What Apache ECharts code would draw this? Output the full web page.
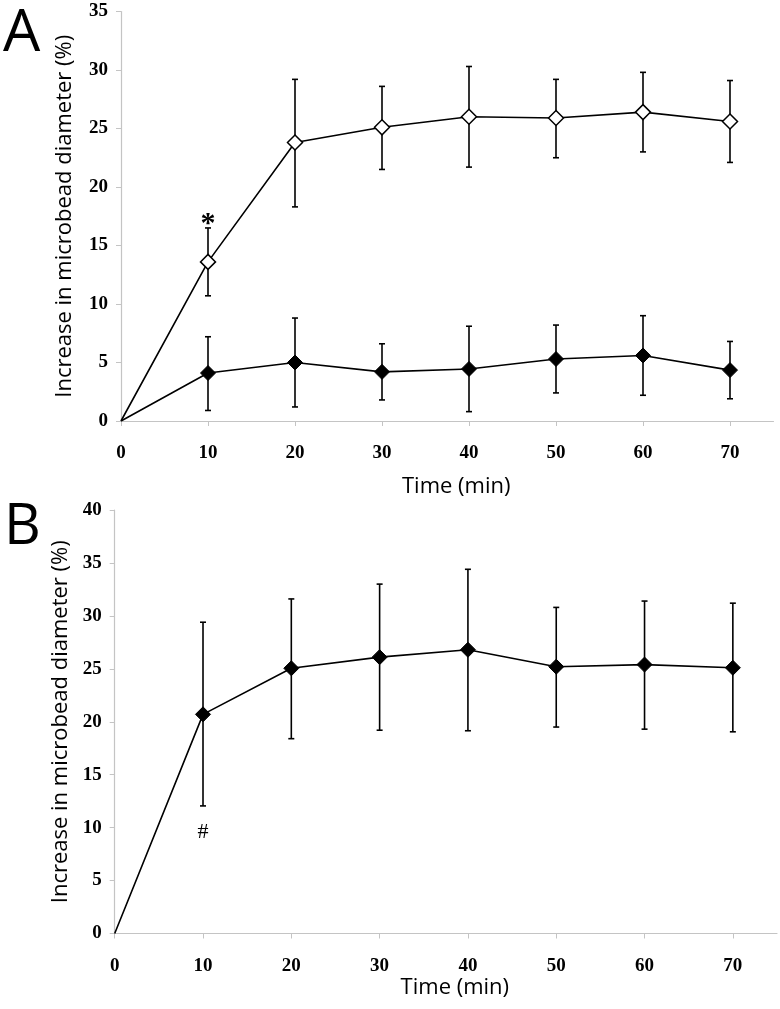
<!DOCTYPE html>
<html>
<head>
<meta charset="utf-8">
<script src="https://cdn.jsdelivr.net/npm/echarts@6/dist/echarts.min.js"></script>
<style>
html,body{margin:0;padding:0;background:#fff;}
#chart{width:780px;height:1009px;}
</style>
</head>
<body>
<div id="chart"></div>
<script>
// ---- Data ----
var timeMin = [0, 10, 20, 30, 40, 50, 60, 70];
var xTickLabels = [0, 10, 20, 30, 40, 50, 60, 70];
var yTicksA = [0, 5, 10, 15, 20, 25, 30, 35];
var yTicksB = [0, 5, 10, 15, 20, 25, 30, 35, 40];

// Panel A - open diamonds
var openMean  = [0, 13.6, 23.8, 25.1, 26.0, 25.9, 26.4, 25.6];
var openUpper = [null, 16.5, 29.2, 28.6, 30.3, 29.2, 29.8, 29.1];
var openLower = [null, 10.7, 18.3, 21.5, 21.7, 22.5, 23.0, 22.1];
// Panel A - filled diamonds
var filledMean  = [0, 4.1, 5.0, 4.2, 4.45, 5.3, 5.6, 4.35];
var filledUpper = [null, 7.2, 8.8, 6.6, 8.1, 8.2, 9.0, 6.8];
var filledLower = [null, 0.9, 1.2, 1.8, 0.8, 2.4, 2.2, 1.9];
// Panel B - filled diamonds
var bMean  = [0, 20.7, 25.05, 26.1, 26.8, 25.2, 25.4, 25.1];
var bUpper = [null, 29.4, 31.6, 33.0, 34.4, 30.8, 31.4, 31.2];
var bLower = [null, 12.05, 18.4, 19.2, 19.15, 19.5, 19.3, 19.05];

// Annotations [x, y, text]
var annotA = [[10, 16.8, '*']];
var annotB = [[10, 9.6, '#']];

var yTitle = 'Increase in microbead diameter (%)';
var xTitle = 'Time (min)';

// ---- Build ----
var chart = echarts.init(document.getElementById('chart'), null, {renderer: 'canvas'});

function lineData(mean) {
  return timeMin.map(function (t, i) {
    return i === 0 ? {value: [t, mean[i]], symbol: 'none'} : [t, mean[i]];
  });
}
function errData(lo, hi) {
  var out = [];
  timeMin.forEach(function (t, i) {
    if (lo[i] != null && hi[i] != null) out.push([t, lo[i], hi[i]]);
  });
  return out;
}
function errRender(params, api) {
  var x = api.value(0);
  var p1 = api.coord([x, api.value(2)]);
  var p2 = api.coord([x, api.value(1)]);
  var hw = 3;
  var st = {stroke: '#000', lineWidth: 1.6};
  return {
    type: 'group',
    children: [
      {type: 'line', shape: {x1: p1[0], y1: p1[1], x2: p2[0], y2: p2[1]}, style: st},
      {type: 'line', shape: {x1: p1[0] - hw, y1: p1[1], x2: p1[0] + hw, y2: p1[1]}, style: st},
      {type: 'line', shape: {x1: p2[0] - hw, y1: p2[1], x2: p2[0] + hw, y2: p2[1]}, style: st}
    ]
  };
}
var annotTexts = {
  annotA: annotA.map(function (a) { return a[2]; }),
  annotB: annotB.map(function (a) { return a[2]; })
};
function annotRender(font) {
  return function (params, api) {
    var p = api.coord([api.value(0), api.value(1)]);
    return {
      type: 'text',
      x: p[0], y: p[1],
      style: {text: annotTexts[params.seriesName][params.dataIndex], font: font, fill: '#000', align: 'center', verticalAlign: 'middle'}
    };
  };
}

var tickFont = {fontFamily: 'Liberation Serif', fontWeight: 'bold', fontSize: 19, color: '#000'};
var titleFont = {fontFamily: 'Open Sans', fontSize: 22, color: '#000'};
var axisGray = '#c4c4c4';

function xAxisCfg(grid, nameGap) {
  return {
    type: 'value', gridIndex: grid, min: 0, max: 75,
    name: xTitle, nameLocation: 'middle', nameGap: nameGap,
    nameTextStyle: Object.assign({padding: [0, 0, 0, 18]}, titleFont),
    axisLine: {show: true, onZero: false, lineStyle: {color: axisGray, width: 1.2}},
    axisTick: {show: true, length: 5, lineStyle: {color: axisGray}, customValues: xTickLabels},
    axisLabel: Object.assign({margin: 23, customValues: xTickLabels}, tickFont),
    splitLine: {show: false}
  };
}
function yAxisCfg(grid, max, ticks, nameGap) {
  return {
    type: 'value', gridIndex: grid, min: 0, max: max, interval: 5,
    name: yTitle, nameLocation: 'middle', nameGap: nameGap,
    nameTextStyle: titleFont,
    axisLine: {show: true, lineStyle: {color: axisGray, width: 1.2}},
    axisTick: {show: true, length: 5, lineStyle: {color: axisGray}, customValues: ticks},
    axisLabel: Object.assign({margin: 13, customValues: ticks}, tickFont),
    splitLine: {show: false}
  };
}

var lineStyle = {color: '#000', width: 1.6};

var option = {
  animation: false,
  backgroundColor: '#fff',
  grid: [
    {left: 121, right: 6.5, top: 11.5, bottom: 588},
    {left: 114.7, right: 3, top: 510, bottom: 75.5}
  ],
  xAxis: [xAxisCfg(0, 55), xAxisCfg(1, 37)],
  yAxis: [yAxisCfg(0, 35, yTicksA, 45), yAxisCfg(1, 40, yTicksB, 42)],
  graphic: [
    {type: 'text', left: 3, top: 5, style: {text: 'A', fontFamily: 'Open Sans', fontSize: 59, fill: '#000'}},
    {type: 'text', left: 4, top: 499, style: {text: 'B', fontFamily: 'Open Sans', fontSize: 57, fill: '#000'}}
  ],
  series: [
    {type: 'custom', xAxisIndex: 0, yAxisIndex: 0, renderItem: errRender, data: errData(openLower, openUpper), z: 1, encode: {x: 0, y: [1, 2]}},
    {type: 'custom', xAxisIndex: 0, yAxisIndex: 0, renderItem: errRender, data: errData(filledLower, filledUpper), z: 1, encode: {x: 0, y: [1, 2]}},
    {type: 'custom', xAxisIndex: 1, yAxisIndex: 1, renderItem: errRender, data: errData(bLower, bUpper), z: 1, encode: {x: 0, y: [1, 2]}},
    {type: 'line', xAxisIndex: 0, yAxisIndex: 0, data: lineData(openMean), z: 3,
     symbol: 'diamond', symbolSize: 15, showAllSymbol: true,
     lineStyle: lineStyle, itemStyle: {color: '#fff', borderColor: '#000', borderWidth: 1.5}},
    {type: 'line', xAxisIndex: 0, yAxisIndex: 0, data: lineData(filledMean), z: 3,
     symbol: 'diamond', symbolSize: 15, showAllSymbol: true,
     lineStyle: lineStyle, itemStyle: {color: '#000', borderColor: '#000', borderWidth: 1}},
    {type: 'line', xAxisIndex: 1, yAxisIndex: 1, data: lineData(bMean), z: 3,
     symbol: 'diamond', symbolSize: 15, showAllSymbol: true,
     lineStyle: lineStyle, itemStyle: {color: '#000', borderColor: '#000', borderWidth: 1}},
    {type: 'custom', name: 'annotA', xAxisIndex: 0, yAxisIndex: 0, z: 5,
     renderItem: annotRender('bold 30px "Liberation Serif"'),
     data: annotA.map(function (a) { return [a[0], a[1]]; })},
    {type: 'custom', name: 'annotB', xAxisIndex: 1, yAxisIndex: 1, z: 5,
     renderItem: annotRender('22px "Liberation Serif"'),
     data: annotB.map(function (a) { return [a[0], a[1]]; })}
  ]
};
chart.setOption(option);
</script>
</body>
</html>
